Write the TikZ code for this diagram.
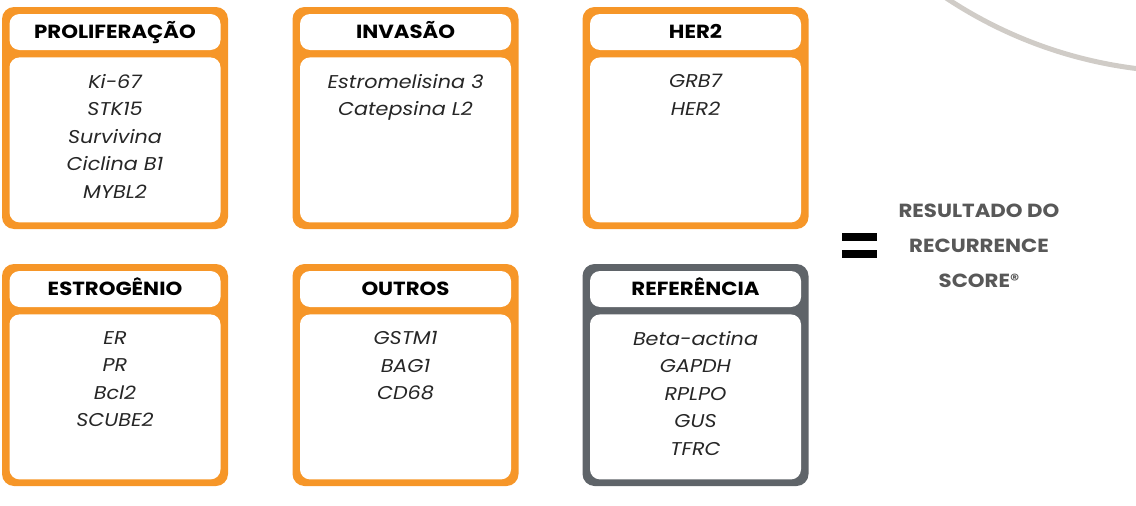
\documentclass[tikz,border=0pt]{standalone}
\usepackage{fontspec}
\setmainfont{Poppins}[FakeStretch=1.12]
\usetikzlibrary{positioning}
\definecolor{panelorange}{RGB}{246,150,40}
\definecolor{panelgray}{RGB}{95,100,105}
\definecolor{scoregray}{RGB}{88,88,88}
\definecolor{ringgray}{RGB}{208,204,199}

\begin{document}
\begin{tikzpicture}[x=1pt,y=-1pt,
    panel/.style={rounded corners=12pt,minimum width=226pt,minimum height=222pt,inner sep=0pt},
    head/.style={fill=white,rounded corners=10pt,minimum width=211pt,minimum height=36pt,inner sep=0pt,
      text height=13.5pt,text depth=0pt,font=\bfseries\fontsize{19}{21}\selectfont},
    listbox/.style={fill=white,rounded corners=10pt,minimum width=211pt,minimum height=165pt,inner sep=0pt},
    genes/.style={align=center,inner sep=0pt,font=\itshape\fontsize{18.5}{27.5}\selectfont,text=black!85},
    result/.style={align=center,font=\bfseries\fontsize{19}{35}\selectfont,text=scoregray}]
  \useasboundingbox (0,0) rectangle (1136,506);
  % faint ring in the corner
  \begin{scope}
    \clip (0,0) rectangle (1136,506);
    \draw[ringgray,line width=5pt] (1192,-373) circle[radius=445pt];
  \end{scope}

  % top row
  \node[panel,fill=panelorange] (prolif) at (115,118) {};
  \node[head,below=7pt of prolif.north] (prolif-head) {PROLIFERAÇÃO};
  \node[listbox,below=7pt of prolif-head] (prolif-list) {};
  \node[genes,below=17pt of prolif-list.north] (prolif-genes) {Ki-67\\STK15\\Survivina\\Ciclina B1\\MYBL2};

  \node[panel,fill=panelorange] (invas) at (405.5,118) {};
  \node[head,below=7pt of invas.north] (invas-head) {INVASÃO};
  \node[listbox,below=7pt of invas-head] (invas-list) {};
  \node[genes,below=17pt of invas-list.north] (invas-genes) {Estromelisina 3\\Catepsina L2};

  \node[panel,fill=panelorange] (her) at (695.5,118) {};
  \node[head,below=7pt of her.north] (her-head) {HER2};
  \node[listbox,below=7pt of her-head] (her-list) {};
  \node[genes,below=17pt of her-list.north] (her-genes) {GRB7\\HER2};

  % bottom row
  \node[panel,fill=panelorange] (estro) at (115,375) {};
  \node[head,below=7pt of estro.north] (estro-head) {ESTROGÊNIO};
  \node[listbox,below=7pt of estro-head] (estro-list) {};
  \node[genes,below=17pt of estro-list.north] (estro-genes) {ER\\PR\\Bcl2\\SCUBE2};

  \node[panel,fill=panelorange] (outros) at (405.5,375) {};
  \node[head,below=7pt of outros.north] (outros-head) {OUTROS};
  \node[listbox,below=7pt of outros-head] (outros-list) {};
  \node[genes,below=17pt of outros-list.north] (outros-genes) {GSTM1\\BAG1\\CD68};

  \node[panel,fill=panelgray] (ref) at (695.5,375) {};
  \node[head,below=7pt of ref.north] (ref-head) {REFERÊNCIA};
  \node[listbox,below=7pt of ref-head] (ref-list) {};
  \node[genes,below=17pt of ref-list.north] (ref-genes) {Beta-actina\\GAPDH\\RPLPO\\GUS\\TFRC};

  % equals sign and result
  \fill[black] (842,233) rectangle (877,241);
  \fill[black] (842,250) rectangle (877,258);
  \node[result] (score) at (979,246) {RESULTADO DO\\RECURRENCE\\SCORE\raisebox{0.12em}{\fontsize{16}{16}\selectfont ®}};
\end{tikzpicture}
\end{document}
